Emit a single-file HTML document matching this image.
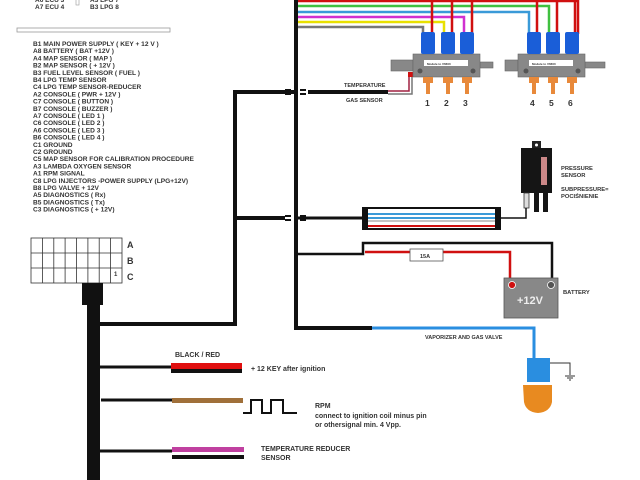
<!DOCTYPE html>
<html><head><meta charset="utf-8"><style>
html,body{margin:0;padding:0;background:#fff;width:640px;height:480px;overflow:hidden}
svg text{font-family:"Liberation Sans",sans-serif;font-weight:bold;fill:#333}
</style></head><body>
<svg width="640" height="480" viewBox="0 0 640 480" xmlns="http://www.w3.org/2000/svg">
<!-- top text -->
<g font-size="6.5">
<text x="35" y="2">A6 ECU 3</text><text x="35" y="9">A7 ECU 4</text>
<text x="90" y="2">A3 LPG 7</text><text x="90" y="9">B3 LPG 8</text>
</g>
<rect x="76" y="-2" width="3" height="7" fill="none" stroke="#999" stroke-width="0.6"/>
<rect x="17" y="28" width="153" height="4" fill="none" stroke="#999" stroke-width="0.8"/>
<g font-size="6.6">
<text x="33" y="46">B1 MAIN POWER SUPPLY ( KEY + 12 V )</text>
<text x="33" y="53.2">A8 BATTERY ( BAT +12V )</text>
<text x="33" y="60.4">A4 MAP SENSOR ( MAP )</text>
<text x="33" y="67.6">B2 MAP SENSOR ( + 12V )</text>
<text x="33" y="74.8">B3 FUEL LEVEL SENSOR ( FUEL )</text>
<text x="33" y="82">B4 LPG TEMP SENSOR</text>
<text x="33" y="89.2">C4 LPG TEMP SENSOR-REDUCER</text>
<text x="33" y="96.4">A2 CONSOLE ( PWR + 12V )</text>
<text x="33" y="103.6">C7 CONSOLE ( BUTTON )</text>
<text x="33" y="110.8">B7 CONSOLE ( BUZZER )</text>
<text x="33" y="118">A7 CONSOLE ( LED 1 )</text>
<text x="33" y="125.2">C6 CONSOLE ( LED 2 )</text>
<text x="33" y="132.4">A6 CONSOLE ( LED 3 )</text>
<text x="33" y="139.6">B6 CONSOLE ( LED 4 )</text>
<text x="33" y="146.8">C1 GROUND</text>
<text x="33" y="154">C2 GROUND</text>
<text x="33" y="161.2">C5 MAP SENSOR FOR CALIBRATION PROCEDURE</text>
<text x="33" y="168.4">A3 LAMBDA OXYGEN SENSOR</text>
<text x="33" y="175.6">A1 RPM SIGNAL</text>
<text x="33" y="182.8">C8 LPG INJECTORS -POWER SUPPLY (LPG+12V)</text>
<text x="33" y="190">B8 LPG VALVE + 12V</text>
<text x="33" y="197.2">A5 DIAGNOSTICS ( Rx)</text>
<text x="33" y="204.4">B5 DIAGNOSTICS ( Tx)</text>
<text x="33" y="211.6">C3 DIAGNOSTICS ( + 12V)</text>
</g>
<!-- colored top wires -->
<g fill="none" stroke-width="2.5">
<path d="M297 27 H423 V34" stroke="#777"/>
<path d="M297 22 H444 V34" stroke="#e8e000"/>
<path d="M297 17 H464 V34" stroke="#d030d0"/>
<path d="M297 12 H529 V34" stroke="#3a9ad8"/>
<path d="M297 6 H549 V34" stroke="#40c040"/>
<path d="M297 1 H578 V34" stroke="#d01010"/>
<path d="M432 1 V34 M452 1 V34 M472 1 V34 M537 1 V34 M557 1 V34 M575 1 V34" stroke="#d01010"/>
</g>
<!-- trunk -->
<rect x="294" y="0" width="4" height="330" fill="#111"/>
<path d="M296 328 H372" stroke="#111" stroke-width="4"/>
<path d="M372 328 H534 V360" stroke="#2a8ee0" stroke-width="3" fill="none"/>
<text x="425" y="339" font-size="5.5">VAPORIZER AND GAS VALVE</text>
<!-- left loop -->
<path d="M294 92 H235 V324 H100" stroke="#111" stroke-width="4" fill="none"/>
<path d="M235 218 H285" stroke="#111" stroke-width="4"/>
<g stroke="#111" stroke-width="2"><path d="M285 216 h6 M285 220 h6 M300 216 h6 M300 220 h6 M285 90 h6 M285 94 h6 M300 90 h6 M300 94 h6"/></g>
<!-- temperature wire -->
<path d="M308 92 H388" stroke="#111" stroke-width="4"/>
<path d="M388 91 H409 V74" stroke="#a02040" stroke-width="1.5" fill="none"/>
<path d="M388 94 H412 V74" stroke="#777" stroke-width="1.5" fill="none"/>
<rect x="408" y="72" width="5" height="5" fill="#d01010"/>
<text x="344" y="87" font-size="5.5" font-weight="normal">TEMPERATURE</text>
<text x="346" y="102" font-size="5.5" font-weight="normal">GAS SENSOR</text>
<!-- rails -->
<g fill="#888" stroke="#666" stroke-width="0.6">
<rect x="391" y="60" width="22" height="11"/><rect x="480" y="62" width="13" height="6"/>
<rect x="413" y="54" width="67" height="23"/>
<rect x="505" y="60" width="13" height="11"/><rect x="585" y="62" width="20" height="6"/>
<rect x="518" y="54" width="67" height="23"/>
</g>
<rect x="424" y="60" width="44" height="6" fill="#fff"/>
<rect x="529" y="60" width="44" height="6" fill="#fff"/>
<g font-size="3" font-weight="normal"><text x="427" y="65">Module to V6600</text><text x="532" y="65">Module to V6600</text></g>
<g fill="#555"><circle cx="420" cy="71" r="2.5"/><circle cx="473" cy="71" r="2.5"/><circle cx="526" cy="71" r="2.5"/><circle cx="578" cy="71" r="2.5"/></g>
<g fill="#1a5ed8">
<rect x="421" y="32" width="14" height="22" rx="2"/><rect x="441" y="32" width="14" height="22" rx="2"/><rect x="460" y="32" width="14" height="22" rx="2"/>
<rect x="527" y="32" width="14" height="22" rx="2"/><rect x="546" y="32" width="14" height="22" rx="2"/><rect x="565" y="32" width="14" height="22" rx="2"/>
</g>
<g fill="#e8893a">
<rect x="423" y="77" width="10" height="6"/><rect x="426" y="83" width="4" height="11"/>
<rect x="443" y="77" width="10" height="6"/><rect x="446" y="83" width="4" height="11"/>
<rect x="462" y="77" width="10" height="6"/><rect x="465" y="83" width="4" height="11"/>
<rect x="529" y="77" width="10" height="6"/><rect x="532" y="83" width="4" height="11"/>
<rect x="548" y="77" width="10" height="6"/><rect x="551" y="83" width="4" height="11"/>
<rect x="567" y="77" width="10" height="6"/><rect x="570" y="83" width="4" height="11"/>
</g>
<g font-size="8.5"><text x="425" y="106">1</text><text x="444" y="106">2</text><text x="463" y="106">3</text><text x="530" y="106">4</text><text x="549" y="106">5</text><text x="568" y="106">6</text></g>
<!-- pressure sensor -->
<rect x="532" y="141" width="9" height="8" fill="#222"/><circle cx="536.5" cy="145" r="1.5" fill="#fff"/>
<rect x="521" y="148" width="31" height="45" fill="#151515"/>
<rect x="541" y="157" width="6" height="28" fill="#c88"/>
<rect x="524" y="193" width="5" height="15" fill="#ddd" stroke="#333" stroke-width="0.8"/>
<rect x="534" y="193" width="5" height="19" fill="#151515"/><rect x="543" y="193" width="5" height="19" fill="#151515"/>
<g font-size="5.8"><text x="561" y="170">PRESSURE</text><text x="561" y="177">SENSOR</text><text x="561" y="191">SUBPRESSURE=</text><text x="561" y="198">POCIŚNIENIE</text></g>
<!-- harness -->
<path d="M298 218 H363" stroke="#111" stroke-width="3"/>
<path d="M500 218 H526 V208" stroke="#111" stroke-width="1.5" fill="none"/>
<rect x="363" y="208" width="137" height="21" fill="#fff" stroke="#111" stroke-width="2"/>
<rect x="363" y="208" width="5" height="21" fill="#111"/><rect x="495" y="208" width="5" height="21" fill="#111"/>
<g stroke-width="2"><path d="M368 214 H495" stroke="#3a9ad8"/><path d="M368 218 H495" stroke="#3a9ad8"/><path d="M368 221 H495" stroke="#888" stroke-width="1"/><path d="M368 226 H495" stroke="#d01010"/></g>
<!-- battery -->
<path d="M296 254 H363 V243 H552 V278" stroke="#111" stroke-width="2.5" fill="none"/>
<path d="M365 252 H510 V278" stroke="#d01010" stroke-width="2.5" fill="none"/>
<rect x="410" y="249" width="33" height="12" fill="#fff" stroke="#555" stroke-width="0.8"/>
<text x="420" y="258" font-size="5.5">15A</text>
<rect x="504" y="278" width="54" height="40" fill="#888" stroke="#555" stroke-width="0.8"/>
<circle cx="512" cy="285" r="3.5" fill="#d01010" stroke="#fff" stroke-width="0.8"/>
<circle cx="551" cy="285" r="3.5" fill="#555" stroke="#fff" stroke-width="0.8"/>
<text x="517" y="304" font-size="11" fill="#eee" style="fill:#eee">+12V</text>
<text x="563" y="294" font-size="5.8">BATTERY</text>
<!-- valve -->
<rect x="527" y="358" width="23" height="24" fill="#2a8ee0"/>
<path d="M550 363 H570 V375" stroke="#333" stroke-width="1" fill="none"/>
<path d="M565 376 h10 M567 378 h6 M569 380 h2" stroke="#333" stroke-width="1"/>
<path d="M523 385 H552 V402 Q550 412 538 413 Q526 412 524 402 Z" fill="#e88a20"/>
<!-- connector -->
<g fill="none" stroke="#333" stroke-width="0.8">
<rect x="31" y="238" width="91" height="45"/>
<path d="M42.4 238 V283 M53.8 238 V283 M65.1 238 V283 M76.5 238 V283 M87.9 238 V283 M99.2 238 V283 M110.6 238 V283 M31 253 H122 M31 268 H122"/>
</g>
<text x="114" y="276" font-size="6">1</text>
<g font-size="9"><text x="127" y="248">A</text><text x="127" y="264">B</text><text x="127" y="280">C</text></g>
<rect x="82" y="283" width="21" height="22" fill="#111"/>
<rect x="87" y="304" width="13" height="176" fill="#111"/>
<!-- branches -->
<path d="M100 367 H172" stroke="#111" stroke-width="3"/>
<rect x="171" y="363" width="71" height="6" fill="#e01010"/><rect x="171" y="369" width="71" height="4" fill="#111"/>
<text x="175" y="357" font-size="7">BLACK / RED</text>
<text x="251" y="371" font-size="7">+ 12 KEY  after ignition</text>
<path d="M101 400 H172" stroke="#111" stroke-width="3"/>
<rect x="172" y="398" width="71" height="5" fill="#a0703a"/>
<path d="M243 413 H251 V400 H262 V413 H271 V400 H283 V413 H297" stroke="#111" stroke-width="2" fill="none"/>
<g font-size="7"><text x="315" y="408">RPM</text><text x="315" y="418">connect to ignition coil minus pin</text><text x="315" y="427">or othersignal min. 4 Vpp.</text></g>
<path d="M100 451 H172" stroke="#111" stroke-width="3"/>
<rect x="172" y="447" width="72" height="5" fill="#c040a0"/><rect x="172" y="455" width="72" height="4" fill="#111"/>
<g font-size="7"><text x="261" y="451">TEMPERATURE REDUCER</text><text x="261" y="460">SENSOR</text></g>
</svg>
</body></html>
